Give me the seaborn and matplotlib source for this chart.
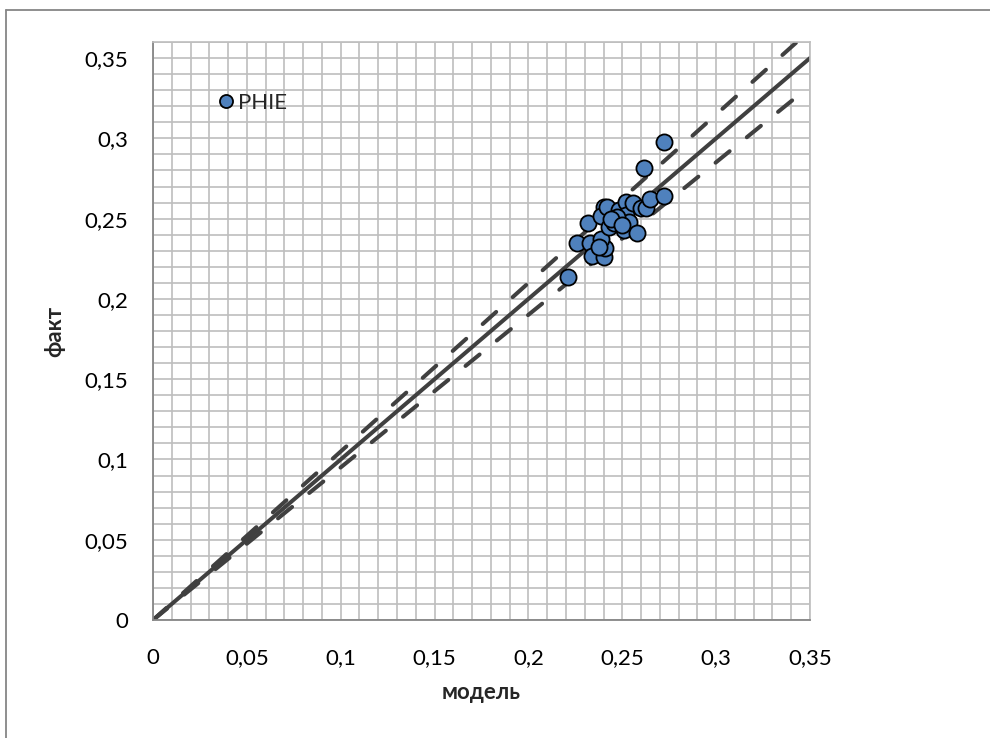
import matplotlib
matplotlib.use("Agg")
import matplotlib.pyplot as plt
import seaborn as sns
import numpy as np
import pandas as pd
from matplotlib.lines import Line2D
from matplotlib.ticker import MultipleLocator, FixedLocator, FuncFormatter

# ---- data ----
model = [0.221, 0.226, 0.232, 0.233, 0.234, 0.240, 0.241, 0.2385, 0.2375,
         0.240, 0.2385, 0.243, 0.2455, 0.242, 0.248, 0.252, 0.251, 0.252,
         0.2555, 0.2535, 0.258, 0.260, 0.2625, 0.265, 0.272, 0.272, 0.2615,
         0.247, 0.244, 0.250]
fact = [0.2135, 0.2345, 0.247, 0.235, 0.2265, 0.226, 0.2315, 0.2375, 0.2325,
        0.2575, 0.2515, 0.245, 0.247, 0.2575, 0.2555, 0.2605, 0.243, 0.252,
        0.2595, 0.248, 0.241, 0.2565, 0.2565, 0.2625, 0.264, 0.2975, 0.2815,
        0.251, 0.250, 0.246]
series_name = "PHIE"

ideal_x = [0.0, 0.35]
ideal_y = [0.0, 0.35]
upper_x = [0.0, 0.343]
upper_y = [0.0, 0.360]
lower_x = [0.0, 0.343]
lower_y = [0.0, 0.326]

x_ticks = [0, 0.05, 0.1, 0.15, 0.2, 0.25, 0.3, 0.35]
y_ticks = [0, 0.05, 0.1, 0.15, 0.2, 0.25, 0.3, 0.35]
x_label = "модель"
y_label = "факт"

# ---- style ----
sns.set_theme(style="white")
plt.rcParams['font.family'] = ['Lato', 'DejaVu Sans']

W, H = 990, 738
fig = plt.figure(figsize=(W / 100, H / 100), dpi=100)
ax = fig.add_axes([153 / W, 1 - 620 / H, (810 - 153) / W, (620 - 42) / H])

line_col = "#404040"
grid_col = "#BEBEBE"

ax.set_xlim(0, 0.35)
ax.set_ylim(0, 0.36)

ax.xaxis.set_major_locator(FixedLocator(x_ticks))
ax.yaxis.set_major_locator(FixedLocator(y_ticks))
ax.xaxis.set_minor_locator(MultipleLocator(0.01))
ax.yaxis.set_minor_locator(MultipleLocator(0.01))
fmt = FuncFormatter(lambda v, p: f"{round(v, 3):g}".replace('.', ','))
ax.xaxis.set_major_formatter(fmt)
ax.yaxis.set_major_formatter(fmt)
ax.grid(True, which='both', color=grid_col, linewidth=1.2)
ax.set_axisbelow(True)
ax.tick_params(which='both', length=0)
ax.tick_params(axis='x', pad=20, labelsize=16, colors='black')
ax.tick_params(axis='y', pad=18, labelsize=16, colors='black')

for s in ['left', 'bottom']:
    ax.spines[s].set_color('#868686')
    ax.spines[s].set_linewidth(1.3)
for s in ['top', 'right']:
    ax.spines[s].set_color(grid_col)
    ax.spines[s].set_linewidth(1.2)

# lines
dash = (0, (4.5, 5.5))
sns.lineplot(x=upper_x, y=upper_y, ax=ax, color=line_col, linewidth=2.9,
             linestyle=dash, dash_capstyle='round', zorder=2)
sns.lineplot(x=lower_x, y=lower_y, ax=ax, color=line_col, linewidth=2.9,
             linestyle=dash, dash_capstyle='round', zorder=2)
sns.lineplot(x=ideal_x, y=ideal_y, ax=ax, color=line_col, linewidth=2.9,
             solid_capstyle='round', zorder=2)

# points
df = pd.DataFrame({"model": model, "fact": fact})
sns.scatterplot(data=df, x="model", y="fact", ax=ax, s=135, color="#4F81BD",
                edgecolor="black", linewidth=1.3, zorder=3, legend=False)

ax.set_xlim(0, 0.35)
ax.set_ylim(0, 0.36)

ax.set_xlabel(x_label, fontsize=16, fontweight='bold')
ax.set_ylabel(y_label, fontsize=16, fontweight='bold')
ax.xaxis.set_label_coords(0.5, -0.1246)
ax.yaxis.set_label_coords(-0.149, 0.5)
ax.xaxis.label.set_va('center')
ax.yaxis.label.set_va('center')

handle = Line2D([], [], marker='o', linestyle='none', markersize=9.4,
                markerfacecolor="#4F81BD", markeredgecolor='black',
                markeredgewidth=1.3)
ax.legend([handle], [series_name], loc='center left',
          bbox_to_anchor=(0.094, (620 - 103) / 578), frameon=False, fontsize=16,
          handletextpad=0.05, handlelength=1.0, borderpad=0, borderaxespad=0)

# outer chart frame
fig.add_artist(Line2D([6 / W, 6 / W], [0, 1 - 10 / H], color='#868686',
                      linewidth=1.3, transform=fig.transFigure))
fig.add_artist(Line2D([6 / W, 1], [1 - 10 / H, 1 - 10 / H], color='#868686',
                      linewidth=1.3, transform=fig.transFigure))

fig.savefig("out.png", dpi=100)
